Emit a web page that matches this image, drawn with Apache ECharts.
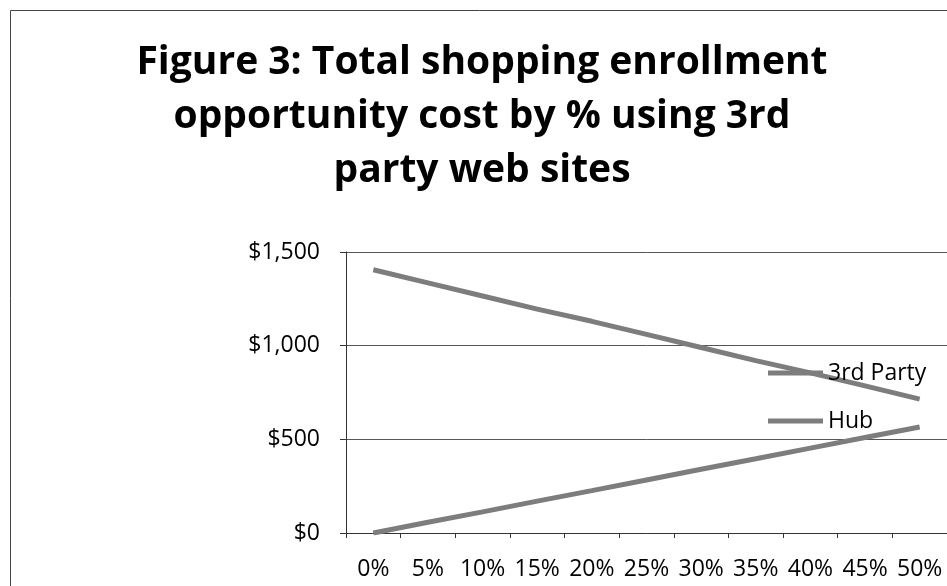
<!DOCTYPE html>
<html>
<head>
<meta charset="utf-8">
<script src="https://cdn.jsdelivr.net/npm/echarts@6/dist/echarts.min.js"></script>
<style>
html,body{margin:0;padding:0;background:#fff;}
#chart{width:947px;height:586px;}
</style>
</head>
<body>
<div id="chart"></div>
<script>
const titleText = 'Figure 3: Total shopping enrollment\nopportunity cost by % using 3rd\nparty web sites';
const categories = ['0%','5%','10%','15%','20%','25%','30%','35%','40%','45%','50%'];
const thirdParty = [1405,1335,1265,1195,1130,1060,990,920,855,785,715];
const hub = [0,57,113,170,226,283,340,396,453,510,566];
const seriesNames = ['3rd Party','Hub'];

const titleFont = '"Open Sans", Lato, "DejaVu Sans", sans-serif';
const font = '"Open Sans", Lato, "DejaVu Sans", sans-serif';
const lineColor = '#7d7d7d';

const chart = echarts.init(document.getElementById('chart'));
chart.setOption({
  animation: false,
  backgroundColor: '#fff',
  title: {
    text: titleText,
    left: 482,
    top: 36,
    textAlign: 'center',
    padding: 0,
    textStyle: {
      fontFamily: titleFont,
      fontWeight: 'bold',
      fontSize: 39,
      lineHeight: 54,
      color: '#000'
    }
  },
  graphic: [{
    type: 'rect',
    left: 8, top: 8,
    shape: {width: 960, height: 600},
    style: {fill: 'none', stroke: '#444', lineWidth: 1},
    silent: true
  }],
  legend: {
    data: seriesNames,
    orient: 'vertical',
    left: 768,
    top: 360,
    padding: 0,
    itemWidth: 55,
    itemHeight: 5,
    itemGap: 22,
    icon: 'rect',
    textStyle: {fontFamily: font, fontSize: 23, lineHeight: 26, color: '#000'}
  },
  grid: {left: 346, top: 252, width: 607, height: 281, containLabel: false},
  xAxis: {
    type: 'category',
    data: categories,
    boundaryGap: true,
    axisLine: {lineStyle: {color: '#333', width: 1}},
    axisTick: {show: true, length: 5, lineStyle: {color: '#333'}},
    axisLabel: {fontFamily: font, fontSize: 23, color: '#000', margin: 25, interval: 0},
    splitLine: {show: false}
  },
  yAxis: {
    type: 'value',
    min: 0, max: 1500, interval: 500,
    axisLine: {show: true, lineStyle: {color: '#333', width: 1}},
    axisTick: {show: true, length: 6, lineStyle: {color: '#333'}},
    axisLabel: {
      fontFamily: font, fontSize: 23, color: '#000', margin: 26,
      formatter: v => '$' + v.toLocaleString('en-US')
    },
    splitLine: {show: true, lineStyle: {color: '#555', width: 1}}
  },
  series: [
    {
      name: seriesNames[0], type: 'line', data: thirdParty,
      symbol: 'none', color: lineColor,
      lineStyle: {color: lineColor, width: 5}
    },
    {
      name: seriesNames[1], type: 'line', data: hub,
      symbol: 'none', color: lineColor,
      lineStyle: {color: lineColor, width: 5}
    }
  ]
});
</script>
</body>
</html>
